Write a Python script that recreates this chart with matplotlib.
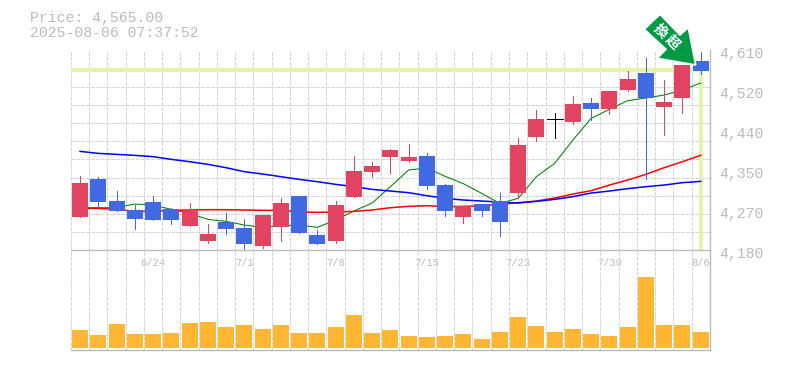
import numpy as np
import matplotlib
matplotlib.use("Agg")
import matplotlib.pyplot as plt
from matplotlib.patches import Polygon
from matplotlib.transforms import ScaledTranslation

price_title = "Price: 4,565.00"
time_title = "2025-08-06 07:37:52"
last_price = 4567

opens = [4324.6,4283.8,4264.4,4247.2,4245.1,4245.1,4264.4,4215.0,4225.7,4193.5,4255.8,4281.6,4217.1,4193.5,4277.3,4350.4,4361.2,4395.6,4380.6,4318.2,4264.4,4275.2,4264.4,4240.8,4406.3,4462.2,4462.2,4494.5,4483.7,4522.4,4548.2,4507.4,4498.8,4577.6,4565.4]
closes = [4251.5,4333.2,4285.9,4266.6,4283.8,4268.7,4232.2,4199.9,4240.8,4227.9,4189.2,4230.0,4296.7,4212.8,4199.9,4294.5,4348.3,4380.6,4372.0,4382.7,4320.3,4251.5,4279.5,4285.9,4303.1,4423.5,4462.2,4455.8,4496.6,4483.7,4524.6,4561.1,4488.0,4507.4,4586.9]
highs = [4339.7,4337.5,4307.4,4277.3,4296.7,4270.9,4281.6,4236.5,4260.1,4247.2,4255.8,4292.4,4296.7,4223.6,4285.9,4382.7,4369.8,4397.7,4408.5,4389.1,4322.5,4275.2,4279.5,4303.1,4421.4,4481.6,4475.1,4511.7,4507.4,4522.4,4565.4,4593.4,4546.1,4577.6,4606.3]
lows = [4251.5,4272.3,4264.4,4225.7,4245.1,4236.5,4232.2,4195.6,4215.0,4178.4,4184.9,4199.9,4217.1,4193.5,4195.6,4294.5,4337.5,4346.1,4369.8,4311.7,4253.7,4238.6,4253.7,4210.7,4292.4,4415.6,4421.4,4451.5,4460.1,4473.0,4522.4,4333.3,4427.8,4475.1,4559.0]
ma_short = [4271.6,4271.6,4271.6,4279.5,4277.3,4268.0,4259.4,4246.5,4242.2,4234.3,4229.3,4232.9,4234.3,4229.3,4245.1,4264.4,4281.6,4316.8,4352.6,4356.9,4339.0,4323.2,4302.4,4280.9,4291.7,4338.3,4366.9,4417.1,4463.7,4483.0,4501.7,4507.4,4513.8,4524.6,4539.6]
ma_mid = [4270.2,4270.2,4268.0,4263.7,4263.7,4265.9,4266.6,4267.3,4267.3,4266.6,4265.9,4265.9,4262.3,4261.6,4262.3,4263.7,4266.6,4271.6,4274.5,4275.9,4273.8,4274.5,4275.2,4278.8,4282.4,4285.9,4292.4,4301.0,4308.2,4320.3,4331.1,4343.3,4357.6,4370.5,4384.1]
ma_long = [4392.7,4388.4,4386.3,4384.1,4381.3,4375.5,4370.5,4364.8,4357.6,4349.0,4344.0,4338.3,4332.5,4327.5,4321.8,4316.8,4311.0,4307.4,4303.9,4297.4,4291.7,4288.1,4285.9,4283.8,4281.6,4285.2,4289.5,4295.3,4303.1,4307.4,4312.5,4316.8,4320.3,4325.4,4328.2]
volumes = [54,39,72,42,42,45,75,78,63,69,57,69,45,45,63,99,45,54,36,33,36,42,27,48,93,66,48,57,42,36,63,213,69,69,48]
price_ticks = [4180,4266,4352,4438,4524,4610]
price_labels = ["4,180","4,270","4,350","4,440","4,520","4,610"]
date_positions = [4,9,14,19,24,29,34]
date_labels = ["6/24","7/1","7/8","7/15","7/23","7/30","8/6"]

W, H = 785, 370
GRAY = "#bbbbbb"
GRID = "#d6d6d6"
UP = "#4169e1"
DOWN = "#e24360"
FONT = "Liberation Mono"
plt.rcParams["font.family"] = [FONT, "DejaVu Sans"]

def box(x0, y0, x1, y1):
    return [x0 / W, 1 - y1 / H, (x1 - x0) / W, (y1 - y0) / H]

fig = plt.figure(figsize=(W / 100, H / 100), dpi=100, facecolor="white")
ax = fig.add_axes(box(70.9, 50.3, 709.8, 250.3))
vol = fig.add_axes(box(70.9, 250.3, 709.8, 350.3))
vol.patch.set_alpha(0)
n = len(opens)
x = np.arange(n)

for a in (ax, vol):
    a.set_xlim(-0.5, n - 0.5)
    a.set_xticks(np.arange(n) - 0.5, minor=True)
    a.tick_params(which="both", length=0)
    a.grid(which="minor", axis="x", color=GRID, lw=0.72, ls=(0, (3, 2)), antialiased=False)
    a.set_axisbelow(True)
    for s in ("left", "top"):
        a.spines[s].set_visible(False)
    for s in ("right", "bottom"):
        a.spines[s].set_color(GRAY)
        a.spines[s].set_linewidth(1.0)

ax.set_ylim(price_ticks[0], price_ticks[-1])
ax.set_yticks(np.linspace(price_ticks[0], price_ticks[-1], 12), minor=True)
ax.grid(which="minor", axis="y", color=GRID, lw=0.72, ls=(0, (3, 2)), antialiased=False)
ax.yaxis.tick_right()
ax.set_yticks(price_ticks, price_labels)
ax.tick_params(axis="y", which="major", pad=7, labelsize=10.7, labelcolor=GRAY)
shift = ScaledTranslation(0, -1.5 / 72, fig.dpi_scale_trans)
for lab in ax.get_yticklabels():
    lab.set_transform(lab.get_transform() + shift)
ax.set_xticks(date_positions, date_labels)
ax.tick_params(axis="x", which="major", pad=5.5, labelsize=7.5, labelcolor=GRAY)

ax.plot([-0.5, n - 1], [last_price, last_price], color="#e2f5a9", lw=2.6, zorder=1.5, solid_capstyle="butt", antialiased=False)
ax.plot([n - 1, n - 1], [last_price, price_ticks[0] + 1], color="#e2f5a9", lw=2.6, zorder=1.5, solid_capstyle="butt", antialiased=False)

ax.plot(x, ma_short, color="#008000", lw=0.75, zorder=2)
ax.plot(x, ma_mid, color="#ff0000", lw=1.1, zorder=2)
ax.plot(x, ma_long, color="#0000ff", lw=1.1, zorder=2)

for i in x:
    o, c = opens[i], closes[i]
    col = UP if c > o else DOWN if c < o else "black"
    ax.vlines(i, lows[i], highs[i], color=col, lw=0.7, zorder=3, antialiased=False)
    if c == o:
        ax.hlines(o, i - 0.44, i + 0.44, color=col, lw=0.7, zorder=3, antialiased=False)
    else:
        ax.bar(i, abs(c - o), bottom=min(o, c), width=0.877, color=col, zorder=3, antialiased=False)

vol.set_ylim(-6.9, 293)
vol.set_yticks([])
vol.set_xticks([])
vol.bar(x, volumes, width=0.877, color="#ffb733", zorder=3, antialiased=False)

fig.text(30 / W, 1 - 18 / H, price_title, color=GRAY, fontsize=10.7, va="center", family=FONT)
fig.text(30 / W, 1 - 33 / H, time_title, color=GRAY, fontsize=10.7, va="center", family=FONT)

arrow_px = [(644.3, 29.3), (660, 14.3), (680, 35), (688.3, 27.7), (695.7, 65), (657.3, 58.3), (666, 49.3)]
arrow = Polygon([(px / W, 1 - py / H) for px, py in arrow_px], closed=True, transform=fig.transFigure,
                facecolor="#009944", edgecolor="white", lw=1.2, zorder=10)
fig.add_artist(arrow)
for ch, px, py in [("換", 660, 31), ("超", 672.5, 42.3)]:
    fig.text(px / W, 1 - py / H, ch, color="white", fontsize=10, fontweight="bold", rotation=-45,
             rotation_mode="anchor", ha="center", va="center", family=["Noto Sans CJK JP", "DejaVu Sans"], zorder=11)

fig.savefig("out.png", dpi=100, facecolor="white")
